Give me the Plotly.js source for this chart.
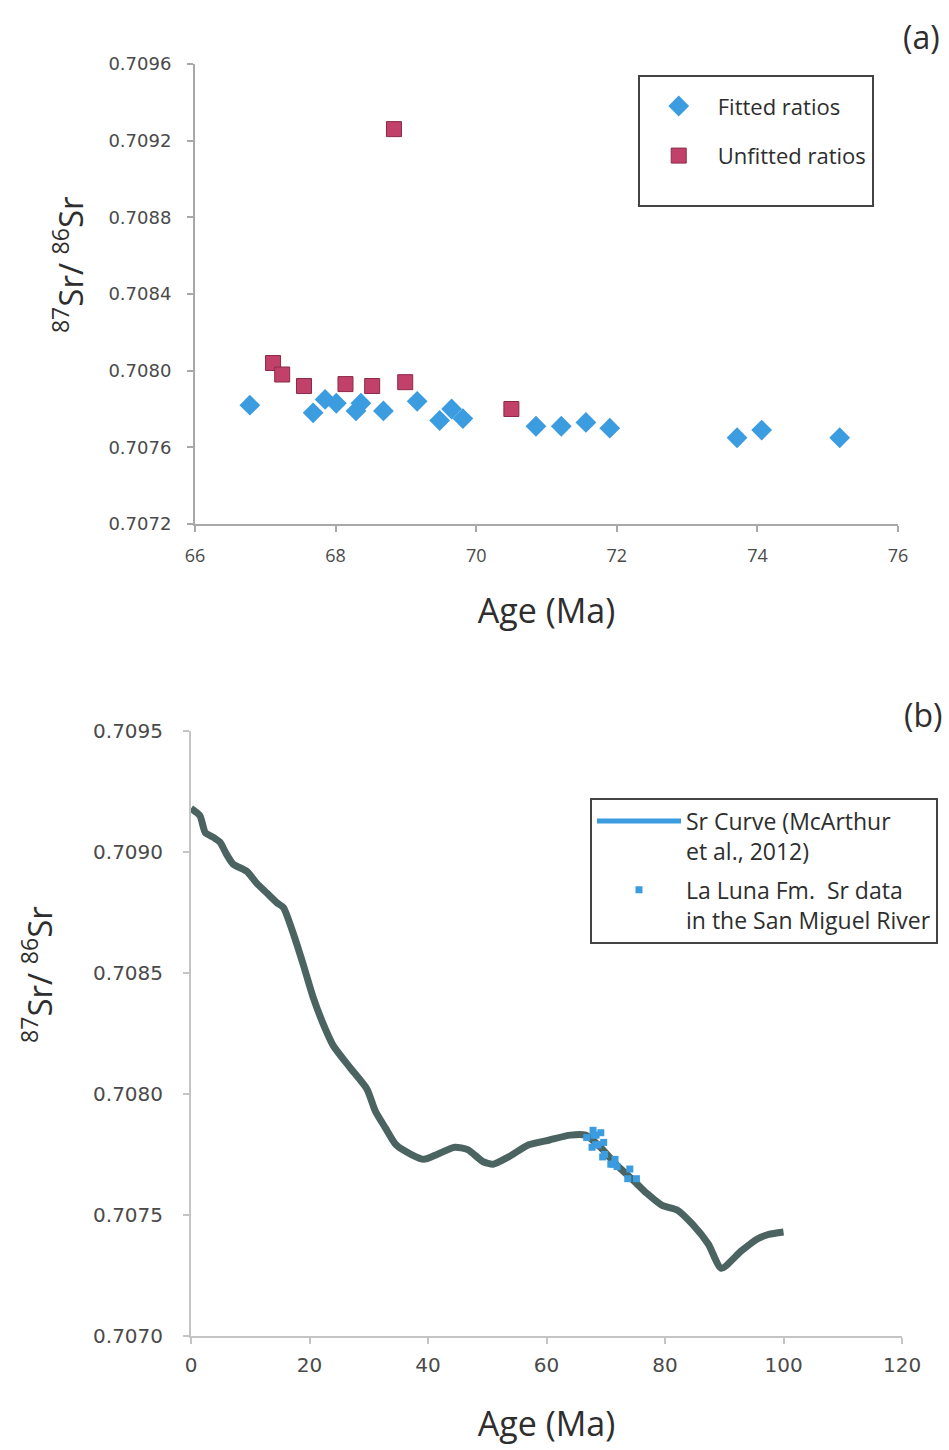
<!DOCTYPE html>
<html>
<head>
<meta charset="utf-8">
<script src="https://cdn.plot.ly/plotly-3.0.1.min.js"></script>
<style>html,body{margin:0;padding:0;background:#fff;}#chart{width:949px;height:1450px;}</style>
</head>
<body>
<div id="chart"></div>
<script>
// ---- Panel (a) data ----
var fittedAge   = [66.78, 67.68, 67.85, 68.01, 68.29, 68.36, 68.68, 69.16, 69.48, 69.65, 69.81, 70.85, 71.21, 71.56, 71.90, 73.71, 74.06, 75.17];
var fittedRatio = [0.70782, 0.70778, 0.70785, 0.70783, 0.70779, 0.70783, 0.70779, 0.70784, 0.70774, 0.70780, 0.70775, 0.70771, 0.70771, 0.70773, 0.70770, 0.70765, 0.70769, 0.70765];
var unfittedAge   = [67.11, 67.24, 67.55, 68.14, 68.52, 68.83, 68.99, 70.50];
var unfittedRatio = [0.70804, 0.70798, 0.70792, 0.70793, 0.70792, 0.70926, 0.70794, 0.70780];

// ---- Panel (b) data: Sr curve (McArthur et al., 2012) ----
var curveAge = [0, 1.5, 2.4, 3.8, 4.9, 6.0, 7.1, 9.4, 11.1, 12.8, 14.5, 15.6, 17.3, 19.0, 20.6, 22.3, 24.0, 26.8, 29.7, 31.1, 32.8, 34.6, 37.2, 39.3, 41.5, 44.5, 46.7, 49.3, 51.0, 53.6, 57.0, 60.5, 64.0, 66.6, 69.1, 71.7, 74.8, 76.9, 79.5, 82.1, 84.7, 87.3, 89.5, 92.8, 95.5, 97.5, 100.0];
var curveRatio = [0.70918, 0.70915, 0.70908, 0.70906, 0.70904, 0.70899, 0.70895, 0.70892, 0.70887, 0.70883, 0.70879, 0.70877, 0.70866, 0.70853, 0.70840, 0.70829, 0.70820, 0.70811, 0.70802, 0.70793, 0.70786, 0.70779, 0.70775, 0.70773, 0.70775, 0.70778, 0.70777, 0.70772, 0.70771, 0.70774, 0.70779, 0.70781, 0.70783, 0.70783, 0.70778, 0.70771, 0.70764, 0.70759, 0.70754, 0.70752, 0.70746, 0.70738, 0.70728, 0.70735, 0.70740, 0.70742, 0.70743];

// Labels
var seriesNamesA = ['Fitted ratios', 'Unfitted ratios'];
var seriesNamesB = ['Sr Curve (McArthur<br>et al., 2012)', 'La Luna Fm.  Sr data<br>in the San Miguel River'];
var panelLabels = ['(a)', '(b)'];
var xTitle = 'Age (Ma)';
var yTitle = '<sup>87</sup>Sr/ <sup>86</sup>Sr';

var blue = '#3b9ce0', red = '#c2416b', curveCol = '#4b6462';
var axisCol = '#a8a8a8', tickFontCol = '#4a4a4a', textCol = '#2e2e2e';
var titleFont = {family: 'Open Sans', size: 34, color: textCol};

var traces = [
  {x: fittedAge, y: fittedRatio, type: 'scatter', mode: 'markers', name: seriesNamesA[0],
   xaxis: 'x', yaxis: 'y', legend: 'legend', legendgroup: 'a1',
   marker: {symbol: 'diamond', size: 16, color: blue}},
  {x: unfittedAge, y: unfittedRatio, type: 'scatter', mode: 'markers', name: seriesNamesA[1] + '<br> ',
   xaxis: 'x', yaxis: 'y', legend: 'legend', legendgroup: 'a2',
   marker: {symbol: 'square', size: 15, color: red, line: {color: '#8a2a48', width: 1}}},
  {x: curveAge, y: curveRatio, type: 'scatter', mode: 'lines', name: seriesNamesB[0],
   xaxis: 'x2', yaxis: 'y2', showlegend: false,
   line: {color: curveCol, width: 7, shape: 'spline', smoothing: 0.6}},
  {x: [null], y: [null], type: 'scatter', mode: 'lines', name: seriesNamesB[0],
   xaxis: 'x2', yaxis: 'y2', legend: 'legend2', legendgroup: 'b1',
   line: {color: blue, width: 5}},
  {x: fittedAge, y: fittedRatio, type: 'scatter', mode: 'markers', name: seriesNamesB[1],
   xaxis: 'x2', yaxis: 'y2', legend: 'legend2', legendgroup: 'b2',
   marker: {symbol: 'square', size: 7, color: blue}}
];

function axisBase(extra) {
  var a = {showgrid: false, zeroline: false, showline: true, linecolor: axisCol, linewidth: 2,
           ticks: 'outside', ticklen: 6, tickcolor: axisCol, tickwidth: 2,
           automargin: false, fixedrange: true};
  for (var k in extra) a[k] = extra[k];
  return a;
}

var layout = {
  width: 949, height: 1450,
  margin: {l: 0, r: 0, t: 0, b: 0},
  paper_bgcolor: '#ffffff', plot_bgcolor: '#ffffff',
  showlegend: true,
  xaxis: axisBase({domain: [0.2055, 0.9463], anchor: 'y', range: [66, 76], dtick: 2, tick0: 66,
                   tickfont: {family: 'Open Sans', size: 18, color: tickFontCol}, ticklabelstandoff: 8,
                   title: {text: xTitle, font: titleFont, standoff: 34}}),
  yaxis: axisBase({domain: [0.6386, 0.9559], anchor: 'x', range: [0.7072, 0.7096], dtick: 0.0004, tick0: 0.7072,
                   tickformat: '.4f', tickfont: {family: 'DejaVu Sans', size: 18, color: tickFontCol},
                   ticklabelstandoff: 12}),
  xaxis2: axisBase({domain: [0.2013, 0.9505], anchor: 'y2', range: [0, 120], dtick: 20, tick0: 0,
                    linecolor: '#c4c4c4', tickcolor: '#c4c4c4',
                    tickfont: {family: 'DejaVu Sans', size: 20, color: tickFontCol}, ticklabelstandoff: 4,
                    title: {text: xTitle, font: titleFont, standoff: 36}}),
  yaxis2: axisBase({domain: [0.0786, 0.4959], anchor: 'x2', range: [0.7070, 0.7095], dtick: 0.0005, tick0: 0.7070,
                    linecolor: '#c4c4c4', tickcolor: '#c4c4c4',
                    tickformat: '.4f', tickfont: {family: 'DejaVu Sans', size: 20, color: tickFontCol},
                    ticklabelstandoff: 16}),
  legend: {x: 0.672, y: 0.948, xanchor: 'left', yanchor: 'top', bgcolor: '#ffffff',
           bordercolor: '#444444', borderwidth: 2, font: {family: 'Open Sans', size: 22, color: textCol},
           title: {text: '&nbsp;', font: {size: 6}},
           traceorder: 'grouped', tracegroupgap: 18, itemwidth: 68, valign: 'top'},
  legend2: {x: 0.6217, y: 0.450, xanchor: 'left', yanchor: 'top', bgcolor: '#ffffff',
            bordercolor: '#444444', borderwidth: 2, font: {family: 'Open Sans', size: 23, color: textCol},
            traceorder: 'grouped', tracegroupgap: 6, itemwidth: 84, valign: 'top'},
  annotations: [
    {text: panelLabels[0], xref: 'paper', yref: 'paper', x: 0.993, y: 0.975, xanchor: 'right', yanchor: 'middle',
     showarrow: false, font: {family: 'Open Sans', size: 32, color: textCol}},
    {text: panelLabels[1], xref: 'paper', yref: 'paper', x: 0.995, y: 0.5075, xanchor: 'right', yanchor: 'middle',
     showarrow: false, font: {family: 'Open Sans', size: 32, color: textCol}},
    {text: yTitle, xref: 'paper', yref: 'paper', x: 0.0717, y: 0.8172, xanchor: 'center', yanchor: 'middle',
     textangle: -90, showarrow: false, font: {family: 'Open Sans', size: 33, color: textCol}},
    {text: yTitle, xref: 'paper', yref: 'paper', x: 0.040, y: 0.3283, xanchor: 'center', yanchor: 'middle',
     textangle: -90, showarrow: false, font: {family: 'Open Sans', size: 33, color: textCol}}
  ]
};

Plotly.newPlot('chart', traces, layout, {staticPlot: true, displayModeBar: false});
</script>
</body>
</html>
